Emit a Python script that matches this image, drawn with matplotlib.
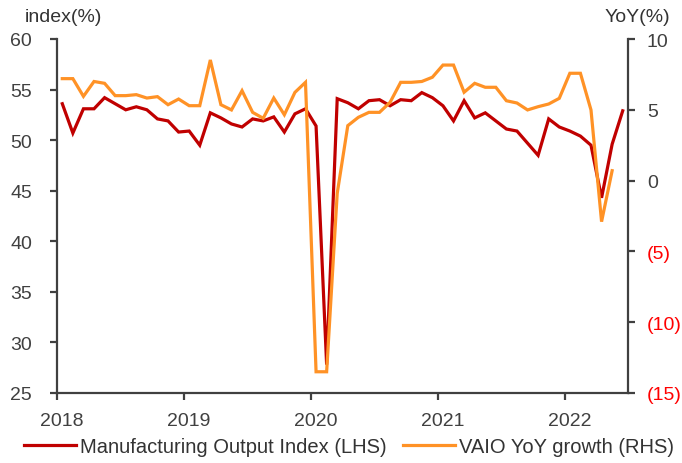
import matplotlib
matplotlib.use("Agg")
import matplotlib.pyplot as plt
import matplotlib.transforms as mtransforms
import numpy as np
from matplotlib.ticker import FuncFormatter

plt.rcParams['font.family'] = ['Liberation Sans', 'DejaVu Sans']

years = ["2018", "2019", "2020", "2021", "2022"]

# Monthly, Jan 2018 - Jun 2022
manufacturing_index = [
    53.6, 50.7, 53.1, 53.1, 54.2, 53.6, 53.0, 53.3, 53.0, 52.1, 51.9, 50.8,
    50.9, 49.5, 52.7, 52.2, 51.6, 51.3, 52.1, 51.9, 52.3, 50.8, 52.6, 53.1,
    51.4, 27.8, 54.1, 53.7, 53.1, 53.9, 54.0, 53.4, 54.0, 53.9, 54.7, 54.2,
    53.4, 51.9, 53.9, 52.2, 52.7, 51.9, 51.1, 50.9, 49.7, 48.5, 52.1, 51.3,
    50.9, 50.4, 49.5, 44.3, 49.6, 52.9,
]
# Monthly, Jan 2018 - May 2022
vaio_yoy = [
    7.2, 7.2, 5.95, 7.0, 6.87, 6.0, 6.0, 6.07, 5.83, 5.93, 5.36, 5.76,
    5.29, 5.29, 8.52, 5.36, 4.99, 6.35, 4.82, 4.4, 5.83, 4.65, 6.23, 6.94,
    -13.5, -13.5, -0.9, 3.88, 4.47, 4.82, 4.82, 5.53, 6.94, 6.94, 7.0, 7.3,
    8.16, 8.16, 6.24, 6.87, 6.59, 6.59, 5.64, 5.48, 4.99, 5.22, 5.41, 5.81,
    7.58, 7.58, 4.99, -2.9, 0.7,
]

red = '#C00000'
orange = '#FF9226'
grey = '#404040'
FS = 14

fig = plt.figure(figsize=(6.82, 4.64), dpi=100)
ax = fig.add_axes([57/682, 1-394/464, (628-57)/682, (394-40)/464])
ax2 = ax.twinx()

x1 = np.arange(len(manufacturing_index)) + 0.5
x2 = np.arange(len(vaio_yoy)) + 0.5
l1, = ax.plot(x1, manufacturing_index, color=red, lw=2.3, solid_joinstyle='miter')
l2, = ax2.plot(x2, vaio_yoy, color=orange, lw=2.3, solid_joinstyle='miter')

ax.set_xlim(0, 54)
ax.set_ylim(25, 60)
ax2.set_ylim(-15, 10)
ax.set_yticks(np.arange(25, 61, 5))
ax2.set_yticks(np.arange(-15, 11, 5))
ax.set_xticks(np.arange(0, 60, 12))
ax.set_xticklabels(years)

def fmt(v, pos):
    v = int(round(v))
    return f"({abs(v)})" if v < 0 else f"{v}"
ax2.yaxis.set_major_formatter(FuncFormatter(fmt))

for a in (ax, ax2):
    a.spines['top'].set_visible(False)
    for s in ['left', 'right', 'bottom']:
        a.spines[s].set_color(grey)
        a.spines[s].set_linewidth(1.6)
ax.spines['right'].set_visible(False)
ax2.spines['left'].set_visible(False)
ax2.spines['bottom'].set_visible(False)

ax.tick_params(axis='both', direction='out', length=5, width=1.6, color=grey,
               labelcolor=grey, labelsize=FS)
ax.tick_params(axis='y', pad=13)
ax.tick_params(axis='x', pad=8.5)
ax2.tick_params(axis='y', direction='out', length=5, width=1.6, color=grey,
                labelsize=FS, pad=8.5)
for t, v in zip(ax2.get_yticklabels(), ax2.get_yticks()):
    t.set_color('#FF0000' if v < 0 else grey)

shift = mtransforms.ScaledTranslation(5/100, 0, fig.dpi_scale_trans)
for t in ax.get_xticklabels():
    t.set_transform(t.get_transform() + shift)

fig.text(25/682, 1-17/464, "index(%)", fontsize=FS, color='#333333', va='center', ha='left')
fig.text(670/682, 1-17/464, "YoY(%)", fontsize=FS, color='#333333', va='center', ha='right')

fig.legend([l1, l2], ["Manufacturing Output Index (LHS)", "VAIO YoY growth (RHS)"],
           loc='center', bbox_to_anchor=(349/682, 1-448/464), ncol=2, frameon=False,
           fontsize=14.5, handlelength=2.6, handletextpad=0.2, columnspacing=0.8,
           labelcolor='#333333')

fig.savefig("out.png", dpi=100)
